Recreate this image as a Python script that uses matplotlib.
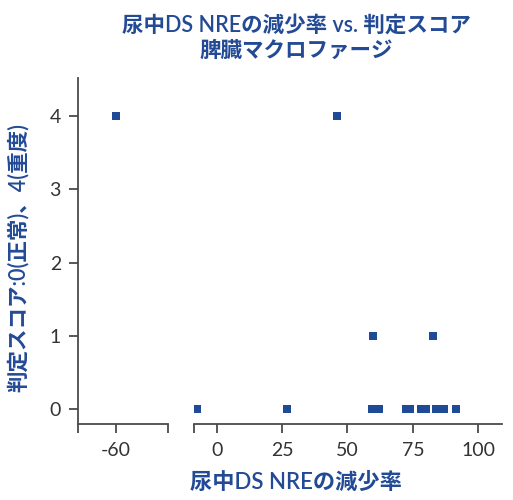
import matplotlib
matplotlib.use("Agg")
import matplotlib.pyplot as plt

plt.rcParams['font.family'] = ['Lato', 'Noto Sans CJK JP', 'DejaVu Sans']
plt.rcParams['axes.unicode_minus'] = False

# Reduction rate of urinary DS NRE (%) and judgement score
x_left = [-60.0]
y_left = [4]
x_right = [45.8, 59.6, 82.9,
           -7.4, 26.8, 59.5, 61.0, 62.0, 72.5, 74.0, 78.0, 80.0,
           84.0, 85.5, 87.0, 91.5]
y_right = [4, 1, 1,
           0, 0, 0, 0, 0, 0, 0, 0, 0,
           0, 0, 0, 0]

yticks = [0, 1, 2, 3, 4]
xticks_left = [-60]
xticks_right = [0, 25, 50, 75, 100]

title = "尿中DS NREの減少率 vs. 判定スコア\n脾臓マクロファージ"
xlabel = "尿中DS NREの減少率"
ylabel = "判定スコア:0(正常)、4(重度)"

blue = "#234a95"
mark = "#1f4b96"
axis_col = "#4a4a4a"
text_col = "#333333"

fig = plt.figure(figsize=(5.13, 5.0), dpi=100)
bottom, top = 0.1514, 0.8434
axL = fig.add_axes([0.1526, bottom, 0.1743, top - bottom])
axR = fig.add_axes([0.3788, bottom, 0.5992, top - bottom], sharey=axL)

ylim = (-0.21, 4.52)
for ax in (axL, axR):
    ax.set_ylim(*ylim)
    for s in ("top", "right"):
        ax.spines[s].set_visible(False)
    for s in ("left", "bottom"):
        ax.spines[s].set_color(axis_col)
        ax.spines[s].set_linewidth(1.3)
    ax.tick_params(colors=axis_col, labelcolor=text_col, labelsize=14,
                   length=6.5, width=1.3, pad=6)

axR.spines["left"].set_visible(False)
axR.tick_params(axis="y", left=False, labelleft=False)

axL.set_xlim(-74.3, -40.1)
axR.set_xlim(-8.6, 109)

axL.set_xticks(xticks_left)
axL.set_xticks([-74.3, -40.1], minor=True)
axL.tick_params(axis="x", which="minor", length=6.5, width=1.3, color=axis_col)
axR.set_xticks(xticks_right)
axR.set_xticks([-8.6], minor=True)
axR.tick_params(axis="x", which="minor", length=6.5, width=1.3, color=axis_col)
axL.set_yticks(yticks)

axL.scatter(x_left, y_left, marker="s", s=26, color=mark, linewidths=0, zorder=3)
axR.scatter(x_right, y_right, marker="s", s=26, color=mark, linewidths=0, zorder=3)

fig.text(0.577, 0.97, title, ha="center", va="top", color=blue,
         fontsize=15.5, fontweight="semibold", linespacing=1.2)
fig.text(0.577, 0.036, xlabel, ha="center", va="center", color=blue,
         fontsize=16, fontweight="semibold")
fig.text(0.035, 0.484, ylabel, ha="center", va="center", color=blue,
         fontsize=15.5, fontweight="semibold", rotation=90)

fig.savefig("out.png", dpi=100)
